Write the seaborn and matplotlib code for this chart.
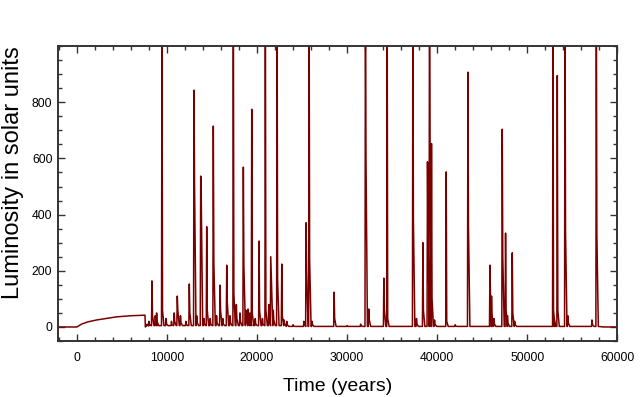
import numpy as np
import pandas as pd
import matplotlib.pyplot as plt
import seaborn as sns
from matplotlib.ticker import MultipleLocator

# initial slow rise before the outbursts
ramp_time = [-2100, 0, 500, 1200, 2200, 4400, 6000, 7550, 7560]
ramp_lum = [0, 0, 10, 18, 25, 36, 40, 42, 42]

# outburst spikes: time, peak, value right after the peak
spike_time = [7800, 8000, 8333, 8700, 8850, 9444, 9900, 10500, 10800, 11144,
              11500, 12100, 12478, 13000, 13300, 13744, 14100, 14411, 14800, 15144,
              15500, 15889, 16200, 16633, 17000, 17367, 17700, 18100, 18478, 18750,
              19000, 19200, 19411, 19800, 20222, 20600, 20922, 21300, 21522, 21800,
              22222, 22744, 23000, 23300, 24000, 25200, 25444, 25778, 26100, 28556,
              30000, 31500, 32033, 32400, 34078, 34444, 37300, 37700, 38411, 38922,
              39144, 39367, 39700, 41000, 42000, 43411, 45855, 46030, 46300, 47222,
              47589, 47800, 48333, 48600, 52855, 53000, 53333, 54189, 54500, 57185,
              57667]
spike_peak = [10, 20, 164, 40, 50, 1200, 30, 20, 50, 110,
              40, 20, 153, 843, 40, 537, 30, 357, 30, 715,
              40, 149, 30, 220, 40, 1200, 80, 50, 569, 60,
              64, 50, 775, 30, 306, 30, 1200, 80, 250, 60,
              1200, 224, 25, 20, 8, 20, 371, 1200, 20, 124,
              5, 10, 1200, 64, 174, 1200, 1200, 30, 300, 588,
              1200, 653, 25, 552, 8, 907, 220, 110, 30, 704,
              334, 40, 264, 20, 1200, 30, 895, 1200, 40, 25,
              1200]
spike_tail = [5, 8, 40, 15, 20, 60, 10, 8, 20, 60,
              15, 8, 50, 510, 15, 465, 10, 60, 10, 230,
              15, 60, 10, 90, 15, 120, 30, 20, 220, 25,
              25, 20, 50, 10, 60, 10, 60, 30, 180, 25,
              170, 40, 10, 8, 3, 8, 200, 240, 8, 30,
              2, 4, 605, 25, 60, 30, 380, 10, 60, 300,
              650, 100, 10, 20, 3, 360, 110, 40, 10, 250,
              60, 15, 50, 8, 60, 10, 60, 340, 15, 8,
              330]

end_time = [58500, 60500]
end_lum = [0, 0]

# build the light curve path from the lists above
t_pts = list(ramp_time)
l_pts = list(ramp_lum)
t_pts.append(7600)
l_pts.append(0)
for t, p, tl in zip(spike_time, spike_peak, spike_tail):
    base = 2 if t > 23000 else 5
    t_pts += [t - 50, t, t + 60, t + 220]
    l_pts += [base, p, tl, base]
t_pts += end_time
l_pts += end_lum

df = pd.DataFrame({"time": t_pts, "lum": l_pts})

sns.set_theme(style="ticks")
plt.rcParams['font.family'] = ['Liberation Sans', 'DejaVu Sans']
plt.rcParams['text.color'] = 'black'
plt.rcParams['axes.labelcolor'] = 'black'
plt.rcParams['xtick.labelcolor'] = 'black'
plt.rcParams['ytick.labelcolor'] = 'black'

fig = plt.figure(figsize=(6.4, 3.97), dpi=100)
ax = fig.add_axes([0.0906, 0.141, 0.874, 0.743])

sns.lineplot(data=df, x="time", y="lum", estimator=None, sort=False,
             color="#7a0000", lw=1.1, ax=ax)

ax.set_xlim(-2100, 60000)
ax.set_ylim(-50, 1000)
ax.xaxis.set_major_locator(MultipleLocator(10000))
ax.xaxis.set_minor_locator(MultipleLocator(2000))
ax.yaxis.set_major_locator(MultipleLocator(200))
ax.yaxis.set_minor_locator(MultipleLocator(50))
ax.set_yticks([0, 200, 400, 600, 800])

ax.tick_params(which="both", direction="in", top=True, right=True,
               color="#333333", width=1.0, labelsize=8.7)
ax.tick_params(axis="x", pad=8)
ax.tick_params(axis="y", pad=4)
ax.tick_params(which="major", length=5)
ax.tick_params(which="minor", length=3)
for s in ax.spines.values():
    s.set_color("#333333")
    s.set_linewidth(1.4)

ax.set_xlabel("Time (years)", fontsize=14, labelpad=10)
ax.set_ylabel("Luminosity in solar units", fontsize=17)
ax.yaxis.set_label_coords(-0.06, 0.57)

fig.savefig("out.png", dpi=100)
